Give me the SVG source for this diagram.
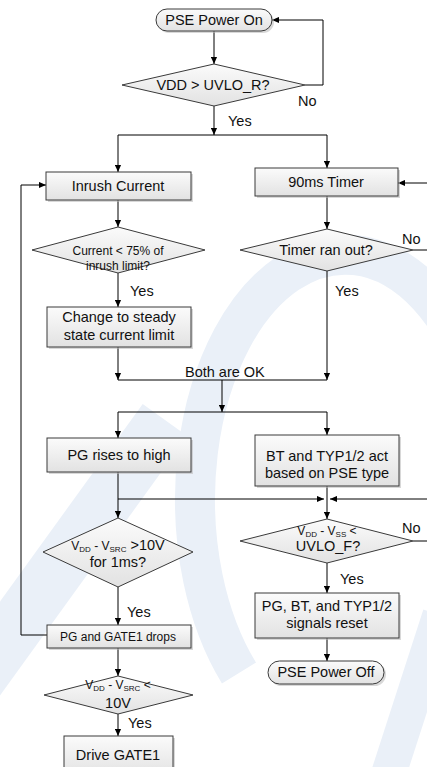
<svg xmlns="http://www.w3.org/2000/svg" width="427" height="767" viewBox="0 0 427 767">
<style>
text{font-family:"Liberation Sans",Arial,sans-serif;fill:#111;}
.t{font-size:14.5px;text-anchor:middle;}
.s{font-size:12px;text-anchor:middle;}
.l{font-size:14.5px;}
.sub{font-size:8px;}
.box{fill:url(#g);stroke:#3a3a3a;stroke-width:1;}
.sh{fill:#b8b8b8;opacity:0.55;}
.c{fill:none;stroke:#000;stroke-width:1;}
.a{marker-end:url(#ar);}
.wm{fill:none;stroke:#eaf0f8;}
</style>
<defs>
<linearGradient id="g" x1="0" y1="0" x2="0" y2="1">
<stop offset="0" stop-color="#fbfbfb"/>
<stop offset="1" stop-color="#e2e2e2"/>
</linearGradient>
<marker id="ar" viewBox="0 0 8 8" refX="8" refY="4" markerWidth="7" markerHeight="7" markerUnits="userSpaceOnUse" orient="auto">
<path d="M0,0.5 L8,4 L0,7.5 Z" fill="#000"/>
</marker>
</defs>
<rect width="427" height="767" fill="#fff"/>
<g id="watermark">
<path class="wm" d="M239,673 A150,245 0 1 1 495,500" stroke-width="40"/>
<path class="wm" d="M-30,690 L165,420" stroke-width="55"/>
<path class="wm" d="M385,785 L440,615" stroke-width="35"/>
</g>
<g id="connectors">
<path class="c a" d="M214,31 V64"/>
<path class="c a" d="M305,85 H323 V20 H272"/>
<path class="c a" d="M214,106 V135"/>
<path class="c" d="M118,135 H327"/>
<path class="c a" d="M118,135 V172"/>
<path class="c a" d="M327,135 V168"/>
<path class="c a" d="M430,183 H398"/>
<path class="c a" d="M118,200 V227"/>
<path class="c a" d="M327,196 V229"/>
<path class="c" d="M413,250 H430"/>
<path class="c a" d="M118,273 V307"/>
<path class="c a" d="M118,347 V380"/>
<path class="c a" d="M327,271 V380"/>
<path class="c" d="M118,380 H327"/>
<path class="c a" d="M222,380 V412"/>
<path class="c" d="M118,412 H327"/>
<path class="c a" d="M118,412 V438"/>
<path class="c a" d="M327,412 V435"/>
<path class="c a" d="M118,472 V518"/>
<path class="c a" d="M118,499 H324"/>
<path class="c a" d="M430,499 H330"/>
<path class="c a" d="M327,486 V519"/>
<path class="c" d="M413,541 H430"/>
<path class="c a" d="M118,587 V625"/>
<path class="c a" d="M47,635 H21 V185 H46"/>
<path class="c a" d="M327,563 V593"/>
<path class="c a" d="M327,638 V661"/>
<path class="c a" d="M118,648 V676"/>
<path class="c a" d="M118,714 V736"/>
</g>
<g id="labels">
<text class="l" x="298" y="106">No</text>
<text class="l" x="228" y="126">Yes</text>
<text class="l" x="402" y="244">No</text>
<text class="l" x="130" y="296">Yes</text>
<text class="l" x="335" y="296">Yes</text>
<text class="l" x="185" y="377">Both are OK</text>
<text class="l" x="402" y="533">No</text>
<text class="l" x="340" y="584">Yes</text>
<text class="l" x="127" y="617">Yes</text>
<text class="l" x="128" y="728">Yes</text>
</g>
<g id="n_power_on">
<rect class="sh" x="158" y="11" width="116" height="22" rx="11"/>
<rect class="box" x="156" y="9" width="116" height="22" rx="11"/>
<text class="t" x="214" y="25">PSE Power On</text>
</g>
<g id="n_uvlo_r">
<polygon class="box" points="122,85 214,64 305,85 214,106"/>
<text class="t" x="213" y="90">VDD &gt; UVLO_R?</text>
</g>
<g id="n_inrush">
<rect class="sh" x="48" y="174" width="145" height="28"/>
<rect class="box" x="46" y="172" width="145" height="28"/>
<text class="t" x="118" y="191">Inrush Current</text>
</g>
<g id="n_timer">
<rect class="sh" x="257" y="170" width="143" height="28"/>
<rect class="box" x="255" y="168" width="143" height="28"/>
<text class="t" x="326" y="187">90ms Timer</text>
</g>
<g id="n_current">
<polygon class="box" points="32,250 118,227 205,250 118,273"/>
<text class="s" x="118" y="255">Current &lt; 75% of</text>
<text class="s" x="118" y="270">inrush limit?</text>
</g>
<g id="n_timer_out">
<polygon class="box" points="240,250 327,229 413,250 327,271"/>
<text class="t" x="326" y="255">Timer ran out?</text>
</g>
<g id="n_steady">
<rect class="sh" x="49" y="309" width="144" height="40"/>
<rect class="box" x="47" y="307" width="144" height="40"/>
<text class="t" x="119" y="322">Change to steady</text>
<text class="t" x="119" y="340">state current limit</text>
</g>
<g id="n_pg_high">
<rect class="sh" x="49" y="440" width="144" height="34"/>
<rect class="box" x="47" y="438" width="144" height="34"/>
<text class="t" x="119" y="460">PG rises to high</text>
</g>
<g id="n_bt">
<rect class="sh" x="257" y="437" width="144" height="51"/>
<rect class="box" x="255" y="435" width="144" height="51"/>
<text class="t" x="327" y="461">BT and TYP1/2 act</text>
<text class="t" x="327" y="478">based on PSE type</text>
</g>
<g id="n_vsrc10">
<polygon class="box" points="43,552 118,518 193,552 118,587"/>
<text class="s" x="118" y="550">V<tspan class="sub" dy="1.5">DD</tspan><tspan dy="-1.5"> - V</tspan><tspan class="sub" dy="1.5">SRC</tspan><tspan dy="-1.5" font-size="14.5"> &gt;10V</tspan></text>
<text class="t" x="118" y="567">for 1ms?</text>
</g>
<g id="n_uvlo_f">
<polygon class="box" points="240,541 327,519 413,541 327,563"/>
<text class="s" x="327" y="535">V<tspan class="sub" dy="1.5">DD</tspan><tspan dy="-1.5"> - V</tspan><tspan class="sub" dy="1.5">SS</tspan><tspan dy="-1.5"> &lt;</tspan></text>
<text class="t" x="328" y="551" font-size="13">UVLO_F?</text>
</g>
<g id="n_gate_drop">
<rect class="sh" x="49" y="627" width="144" height="23"/>
<rect class="box" x="47" y="625" width="144" height="23"/>
<text class="s" x="118" y="641">PG and GATE1 drops</text>
</g>
<g id="n_reset">
<rect class="sh" x="257" y="595" width="144" height="45"/>
<rect class="box" x="255" y="593" width="144" height="45"/>
<text class="t" x="327" y="611">PG, BT, and TYP1/2</text>
<text class="t" x="327" y="628">signals reset</text>
</g>
<g id="n_power_off">
<rect class="sh" x="270" y="663" width="116" height="23" rx="11.5"/>
<rect class="box" x="268" y="661" width="116" height="23" rx="11.5"/>
<text class="t" x="326" y="677">PSE Power Off</text>
</g>
<g id="n_vsrc_lt">
<polygon class="box" points="44,695 118,676 193,695 118,714"/>
<text class="s" x="118" y="689">V<tspan class="sub" dy="1.5">DD</tspan><tspan dy="-1.5"> - V</tspan><tspan class="sub" dy="1.5">SRC</tspan><tspan dy="-1.5"> &lt;</tspan></text>
<text class="t" x="118" y="708">10V</text>
</g>
<g id="n_drive">
<rect class="sh" x="66" y="738" width="109" height="40"/>
<rect class="box" x="64" y="736" width="109" height="40"/>
<text class="t" x="118" y="760" font-size="15">Drive GATE1</text>
</g>
</svg>
